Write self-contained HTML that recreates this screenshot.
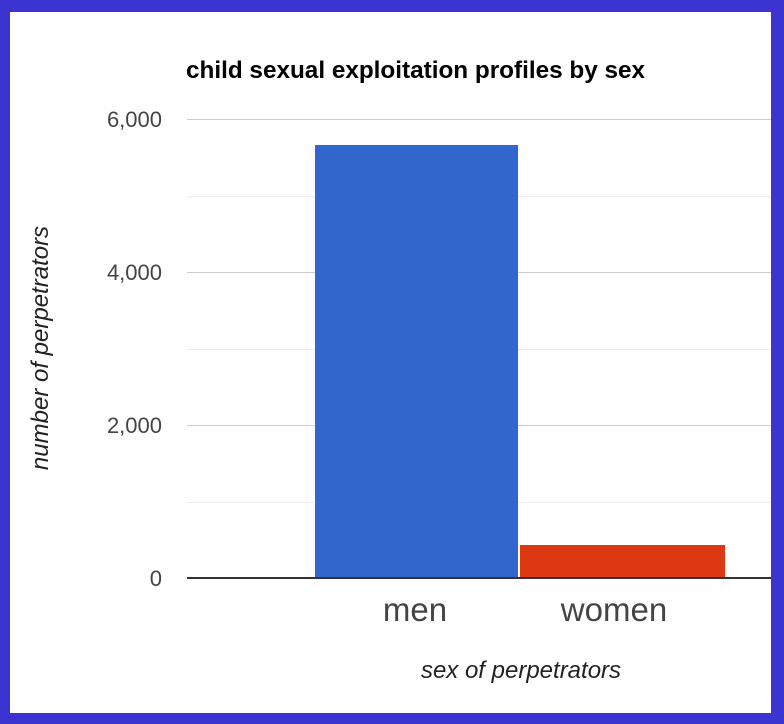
<!DOCTYPE html>
<html><head><meta charset="utf-8"><style>
html,body{margin:0;padding:0;background:#3b34d0;}
</style></head><body>
<svg width="784" height="724" xmlns="http://www.w3.org/2000/svg" style="display:block">
<rect x="0" y="0" width="784" height="724" fill="#3b34d0"/>
<rect x="10" y="12" width="761" height="701" fill="#ffffff"/>
<text x="186" y="78" font-family="Liberation Sans, sans-serif" font-weight="bold" font-size="24" fill="#000" textLength="459" lengthAdjust="spacingAndGlyphs">child sexual exploitation profiles by sex</text>
<g stroke="#ebebeb" stroke-width="1">
<line x1="187" x2="771" y1="196.5" y2="196.5"/>
<line x1="187" x2="771" y1="349.5" y2="349.5"/>
<line x1="187" x2="771" y1="502.5" y2="502.5"/>
</g>
<g stroke="#cccccc" stroke-width="1">
<line x1="187" x2="771" y1="119.5" y2="119.5"/>
<line x1="187" x2="771" y1="272.5" y2="272.5"/>
<line x1="187" x2="771" y1="425.5" y2="425.5"/>
</g>
<rect x="315" y="145" width="203" height="433" fill="#3366cc"/>
<rect x="520" y="545" width="205" height="33" fill="#dc3912"/>
<line x1="187" x2="771" y1="578" y2="578" stroke="#333" stroke-width="2"/>
<g font-family="Liberation Sans, sans-serif" font-size="22" fill="#444" text-anchor="end">
<text x="162" y="127">6,000</text>
<text x="162" y="280">4,000</text>
<text x="162" y="433">2,000</text>
<text x="162" y="586">0</text>
</g>
<g font-family="Liberation Sans, sans-serif" font-size="33" fill="#444" text-anchor="middle">
<text x="415" y="621">men</text>
<text x="614" y="621">women</text>
</g>
<text x="521" y="678" text-anchor="middle" font-family="Liberation Sans, sans-serif" font-style="italic" font-size="24" fill="#222">sex of perpetrators</text>
<text transform="translate(48,348) rotate(-90)" text-anchor="middle" font-family="Liberation Sans, sans-serif" font-style="italic" font-size="24" fill="#222">number of perpetrators</text>
</svg>
</body></html>
